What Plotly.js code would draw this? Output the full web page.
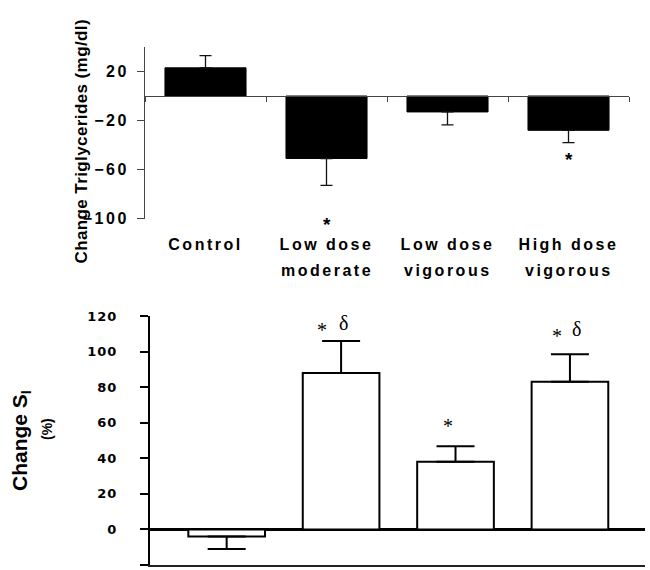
<!DOCTYPE html>
<html><head><meta charset="utf-8">
<script src="https://cdn.plot.ly/plotly-3.0.1.min.js"></script>
<style>
html,body{margin:0;padding:0;background:#fff;}
#chart{width:650px;height:570px;}
.xtick text {letter-spacing:2.5px;}
.ytick text {letter-spacing:2.5px;}
.y2tick text {letter-spacing:1px;}
</style></head><body><div id="chart"></div>
<script>
// ---- data ----
const categories = ['Control', 'Low dose moderate', 'Low dose vigorous', 'High dose vigorous'];
const labelLine1 = ['Control', 'Low dose', 'Low dose', 'High dose'];
const labelLine2 = ['', 'moderate', 'vigorous', 'vigorous'];
const tgChange = [23, -51, -13, -28];     // change in triglycerides (mg/dl)
const tgSem    = [10, 22, 10.5, 10];
const siChange = [-4, 88, 38, 83];        // change in insulin sensitivity (%)
const siSem    = [7, 18, 8.7, 15.5];
const tgTicks  = [-100, -60, -20, 20];
const siTicks  = [-20, 0, 20, 40, 60, 80, 100, 120];
const tgTitle  = 'Change Triglycerides (mg/dl)';
const siTitle  = 'Change S<sub>I</sub>';
const siUnit   = '(%)';

const up   = (v, s) => v.map((x, i) => x >= 0 ? s[i] : 0);
const down = (v, s) => v.map((x, i) => x < 0 ? s[i] : 0);

const SANS = 'Liberation Sans, Arial, sans-serif';
const SERIF = 'Liberation Serif, Times New Roman, serif';

const tgRange = [-100, 40];
const tgDomain = [0.6689, 1];
const zeroPos = tgDomain[0] + (0 - tgRange[0]) / (tgRange[1] - tgRange[0]) * (tgDomain[1] - tgDomain[0]);

const traces = [
  {
    type: 'bar', x: categories, y: tgChange, xaxis: 'x', yaxis: 'y',
    width: 0.67,
    marker: {color: '#000', line: {color: '#000', width: 1}},
    error_y: {type: 'data', symmetric: false, array: up(tgChange, tgSem), arrayminus: down(tgChange, tgSem),
              color: '#111', thickness: 1.3, width: 6},
    hoverinfo: 'skip', showlegend: false
  },
  {
    type: 'bar', x: categories, y: siChange, xaxis: 'x2', yaxis: 'y2',
    width: 0.67,
    marker: {color: '#fff', line: {color: '#000', width: 2}},
    error_y: {type: 'data', symmetric: false, array: up(siChange, siSem), arrayminus: down(siChange, siSem),
              color: '#000', thickness: 2, width: 19},
    hoverinfo: 'skip', showlegend: false
  }
];

const annotations = [];
// second line of category labels
labelLine2.forEach((t, i) => {
  if (!t) return;
  annotations.push({xref: 'x', yref: 'paper', x: categories[i], y: 0.5676, xanchor: 'center', yanchor: 'middle',
    showarrow: false,
    text: '<span style="letter-spacing:2.5px">' + t + '</span>',
    font: {family: SANS, size: 16, weight: 'bold', color: '#000'}});
});
// upper y-axis title
annotations.push({xref: 'paper', yref: 'paper', x: -0.127, y: 0.8185, xanchor: 'center', yanchor: 'middle',
  showarrow: false, textangle: -90,
  text: '<span style="letter-spacing:0.4px">' + tgTitle + '</span>',
  font: {family: SANS, size: 17, weight: 'bold', color: '#000'}});
// unit line of the lower y-axis title
annotations.push({xref: 'paper', yref: 'paper', x: -0.196, y: 0.2625, xanchor: 'center', yanchor: 'middle',
  showarrow: false, textangle: -90,
  text: siUnit, font: {family: SANS, size: 14, weight: 'bold', color: '#000'}});
// significance markers, top chart
annotations.push({xref: 'x', yref: 'y', x: categories[1], y: -100, yshift: -6, showarrow: false, text: '*',
  font: {family: SANS, size: 19, weight: 'bold', color: '#000'}});
annotations.push({xref: 'x', yref: 'y', x: categories[3], y: -52, showarrow: false, text: '*',
  font: {family: SANS, size: 19, weight: 'bold', color: '#000'}});
// significance markers, bottom chart
const sf = {family: SERIF, size: 20, color: '#000'};
annotations.push({xref: 'x2', yref: 'y2', x: categories[1], y: 112, xshift: -19, showarrow: false, text: '*', font: sf});
annotations.push({xref: 'x2', yref: 'y2', x: categories[1], y: 116, xshift: 2, showarrow: false, text: 'δ', font: sf});
annotations.push({xref: 'x2', yref: 'y2', x: categories[2], y: 58, xshift: -8, showarrow: false, text: '*', font: sf});
annotations.push({xref: 'x2', yref: 'y2', x: categories[3], y: 109, xshift: -13, showarrow: false, text: '*', font: sf});
annotations.push({xref: 'x2', yref: 'y2', x: categories[3], y: 112.5, xshift: 7, showarrow: false, text: 'δ', font: sf});

const layout = {
  width: 650, height: 570,
  margin: {l: 145, r: 5, t: 47, b: 5},
  paper_bgcolor: '#fff', plot_bgcolor: 'rgba(0,0,0,0)',
  bargap: 0,
  xaxis: {
    domain: [0, 0.968], type: 'category', range: [-0.5, 3.5],
    anchor: 'free', position: zeroPos,
    showline: true, linecolor: '#444', linewidth: 1,
    ticks: 'outside', ticklen: 5, tickwidth: 1, tickcolor: '#444', tickson: 'boundaries',
    tickmode: 'array', tickvals: categories, ticktext: labelLine1,
    tickfont: {family: SANS, size: 16, weight: 'bold', color: '#000'},
    ticklabelstandoff: 134,
    showgrid: false, zeroline: false, fixedrange: true
  },
  yaxis: {
    domain: tgDomain, anchor: 'x', range: tgRange,
    tickmode: 'array', tickvals: tgTicks,
    showline: true, linecolor: '#444', linewidth: 1,
    ticks: 'outside', ticklen: 7, tickwidth: 1, tickcolor: '#444',
    tickfont: {family: SANS, size: 16, weight: 'bold', color: '#000'},
    ticklabelstandoff: 5,
    showgrid: false, zeroline: false, fixedrange: true
  },
  xaxis2: {
    domain: [0.01, 1], anchor: 'y2', type: 'category', range: [-0.67, 3.656],
    showline: true, linecolor: '#222', linewidth: 1.5,
    ticks: '', showticklabels: false,
    showgrid: false, zeroline: false, fixedrange: true
  },
  yaxis2: {
    domain: [0, 0.4807], anchor: 'x2', range: [-20, 120],
    tickmode: 'array', tickvals: siTicks,
    showline: true, linecolor: '#000', linewidth: 2,
    ticks: 'outside', ticklen: 8, tickwidth: 2, tickcolor: '#000',
    tickfont: {family: 'DejaVu Sans, sans-serif', size: 13, weight: 'bold', color: '#000'},
    ticklabelstandoff: 20,
    showgrid: false, zeroline: true, zerolinecolor: '#000', zerolinewidth: 3,
    fixedrange: true,
    title: {text: siTitle, font: {family: SANS, size: 21, weight: 'bold', color: '#000'}, standoff: 54}
  },
  annotations: annotations
};

Plotly.newPlot('chart', traces, layout, {staticPlot: true, displayModeBar: false});
</script>
</body></html>
